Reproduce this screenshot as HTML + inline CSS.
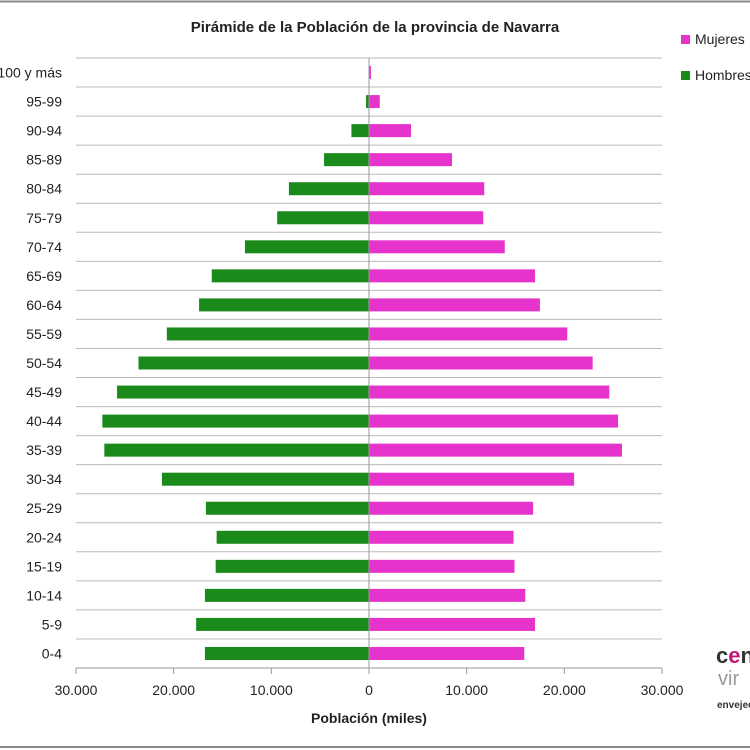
<!DOCTYPE html>
<html><head><meta charset="utf-8"><style>
body{margin:0;background:#fff;}
svg{display:block;font-family:"Liberation Sans",sans-serif;}
</style></head><body>
<svg id="c" width="750" height="750">
<rect x="0" y="0" width="750" height="750" fill="#fff"/>
<line x1="0" y1="1.5" x2="750" y2="1.5" stroke="#888" stroke-width="2"/>
<line x1="0" y1="747" x2="750" y2="747" stroke="#888" stroke-width="2"/>
<text x="375" y="32" text-anchor="middle" font-size="15" font-weight="bold" fill="#222">Pirámide de la Población de la provincia de Navarra</text>
<g id="grid"></g><g id="bars"></g><g id="axes"></g>
<text x="369" y="723" text-anchor="middle" font-size="14" font-weight="bold" fill="#222">Población (miles)</text>
<g>
<rect x="681" y="35" width="9" height="9" fill="#e633cc"/>
<text x="695" y="44" font-size="14" fill="#222">Mujeres</text>
<rect x="681" y="71" width="9" height="9" fill="#1a8a1a"/>
<text x="695" y="80" font-size="14" fill="#222">Hombres</text>
</g>
<g>
<text x="716" y="663" font-size="22" font-weight="bold" fill="#333">c<tspan fill="#c0187a">e</tspan>n</text>
<text x="718" y="685" font-size="20" fill="#999">vir</text>
<text x="717" y="708" font-size="10" font-weight="bold" fill="#333">envejec</text>
</g>
</svg>
<script>
const categories=["100 y más","95-99","90-94","85-89","80-84","75-79","70-74","65-69","60-64","55-59","50-54","45-49","40-44","35-39","30-34","25-29","20-24","15-19","10-14","5-9","0-4"];
const mujeres=[200,1100,4300,8500,11800,11700,13900,17000,17500,20300,22900,24600,25500,25900,21000,16800,14800,14900,16000,17000,15900];
const hombres=[50,300,1800,4600,8200,9400,12700,16100,17400,20700,23600,25800,27300,27100,21200,16700,15600,15700,16800,17700,16800];
const tickValues=[-30000,-20000,-10000,0,10000,20000,30000];
const tickLabels=["30.000","20.000","10.000","0","10.000","20.000","30.000"];
const NS="http://www.w3.org/2000/svg";
const x0=76,x1=662,yTop=58,yBot=668;
const xs=v=>x0+(v+30000)/60000*(x1-x0);
const bandH=(yBot-yTop)/categories.length;
const yc=i=>yTop+bandH*(i+0.5);
function mk(t,a,p){const e=document.createElementNS(NS,t);for(const k in a)e.setAttribute(k,a[k]);p.appendChild(e);return e;}
const g=document.getElementById('grid'),b=document.getElementById('bars'),ax=document.getElementById('axes');
for(let i=0;i<categories.length;i++){
  const l=mk('line',{x1:x0,x2:x1,y1:yTop+bandH*i,y2:yTop+bandH*i,stroke:'#bbb','stroke-width':1},g);
  
  
  const t=mk('text',{x:62,y:yc(i)+5,'text-anchor':'end','font-size':14,fill:'#222'},ax);
  t.textContent=categories[i];
  
  
  const bh=13;
  const rm=mk('rect',{x:xs(0),y:yc(i)-bh/2,width:xs(mujeres[i])-xs(0),height:bh,fill:'#e633cc'},b);
  
  
  const rh=mk('rect',{x:xs(-hombres[i]),y:yc(i)-bh/2,width:xs(0)-xs(-hombres[i]),height:bh,fill:'#1a8a1a'},b);
  
  
}
const za=mk('line',{x1:xs(0),x2:xs(0),y1:yTop,y2:yBot,stroke:'#999','stroke-width':1},ax);


const xa=mk('line',{x1:x0,x2:x1,y1:yBot,y2:yBot,stroke:'#999','stroke-width':1},ax);


tickValues.forEach((v,k)=>{
  const tk=mk('line',{x1:xs(v),x2:xs(v),y1:yBot,y2:yBot+6,stroke:'#999'},ax);
  
  
  const t=mk('text',{x:xs(v),y:yBot+27,'text-anchor':'middle','font-size':14,fill:'#222'},ax);
  t.textContent=tickLabels[k];
  
  
});
</script>
</body></html>
